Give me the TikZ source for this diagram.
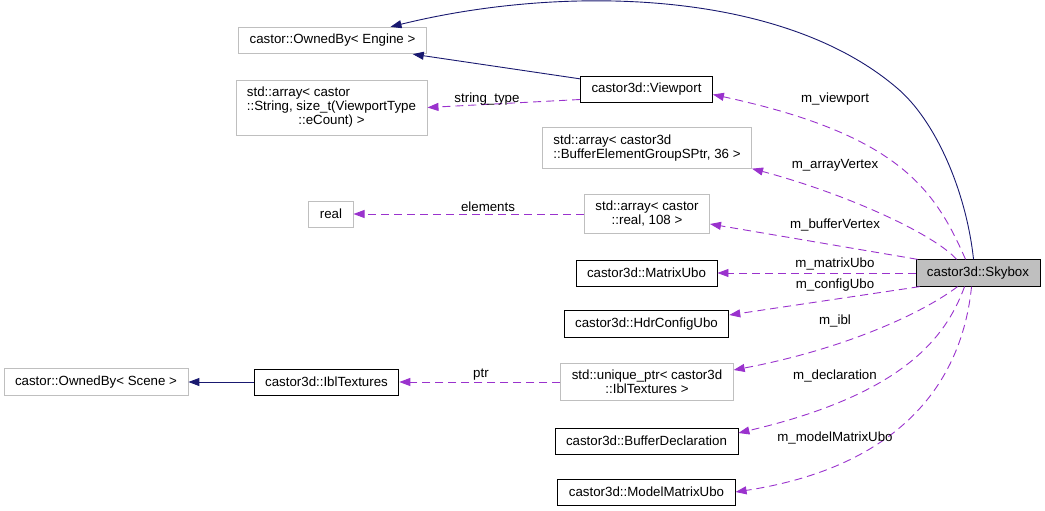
\documentclass[tikz,border=0pt]{standalone}
\usepackage{fontspec}
\setmainfont{Liberation Sans}
\usetikzlibrary{positioning, arrows.meta}
\definecolor{edgenavy}{HTML}{191970}
\definecolor{edgepurple}{HTML}{9A32CD}
\definecolor{boxgray}{HTML}{BFBFBF}

\begin{document}
\begin{tikzpicture}[x=1pt, y=-1pt, font=\fontsize{13.3}{14}\selectfont,
  cls/.style={draw=black, line width=0.9pt, inner xsep=11pt, inner ysep=7pt, minimum height=26pt},
  ext/.style={cls, draw=boxgray},
  lbl/.style={inner sep=1pt},
  inherit/.style={edgenavy, line width=0.9pt, -{Triangle[length=11pt, width=8pt]}},
  member/.style={edgepurple, line width=0.9pt, dash pattern=on 8pt off 5pt, -{Triangle[length=11pt, width=8pt]}}]
  \useasboundingbox (0,0) rectangle (1045,511);

  % classes
  \node[cls, fill=boxgray] (skybox) at (978,273) {castor3d::Skybox};
  \node[ext] (owned_engine) at (332.5,40.5) {castor::OwnedBy< Engine >};
  \node[ext, inner ysep=6.5pt] (strarray) at (331.5,107.5)
    {\begin{tabular}{@{}l@{}}std::array< castor\\::String, size\_t(ViewportType\\\multicolumn{1}{@{}c@{}}{::eCount) >}\end{tabular}};
  \node[cls] (viewport) at (646.5,89.5) {castor3d::Viewport};
  \node[ext, align=left] (bufarray) at (647,148) {std::array< castor3d\\::BufferElementGroupSPtr, 36 >};
  \node[ext] (real) at (331,214) {real};
  \node[ext, align=center] (realarray) at (647,214) {std::array< castor\\::real, 108 >};
  \node[cls] (matrixubo) at (646.5,273) {castor3d::MatrixUbo};
  \node[cls] (hdrubo) at (646.5,324) {castor3d::HdrConfigUbo};
  \node[ext] (owned_scene) at (96,382) {castor::OwnedBy< Scene >};
  \node[cls] (ibltex) at (326.5,382) {castor3d::IblTextures};
  \node[ext, align=center] (iblptr) at (647,382) {std::unique\_ptr< castor3d\\::IblTextures >};
  \node[cls] (bufdecl) at (646.5,441) {castor3d::BufferDeclaration};
  \node[cls] (modelubo) at (646.5,492) {castor3d::ModelMatrixUbo};

  % inheritance
  \draw[inherit] ([xshift=58pt]skybox.north west) .. controls (966,190) and (935,120) .. (897,88)
    .. controls (780,-12) and (560,-15) .. ([xshift=58pt]owned_engine.north);
  \draw[inherit] ([yshift=-3pt]viewport.north west) -- ([xshift=-14pt]owned_engine.south east);
  \draw[inherit] (ibltex) -- (owned_scene);

  % members
  \draw[member] ([yshift=-10pt]viewport.west) -- (strarray.east);
  \draw[member] ([xshift=50pt]skybox.north west) .. controls (935,190) and (900,135) .. ([yshift=-5pt]viewport.east);
  \draw[member] ([xshift=41pt]skybox.north west) .. controls (935,235) and (850,195) .. (bufarray.south east);
  \draw[member] ([xshift=2pt]skybox.north west) -- ([yshift=-10pt]realarray.east);
  \draw[member] (realarray) -- (real);
  \draw[member] (skybox) -- (matrixubo);
  \draw[member] ([xshift=4pt]skybox.south west) -- ([yshift=9pt]hdrubo.east);
  \draw[member] ([xshift=42pt]skybox.south west) .. controls (920,315) and (840,350) .. ([yshift=12pt]iblptr.east);
  \draw[member] (iblptr) -- (ibltex);
  \draw[member] ([xshift=49pt]skybox.south west) .. controls (945,340) and (900,395) .. ([yshift=8pt]bufdecl.east);
  \draw[member] ([xshift=56pt]skybox.south west) .. controls (960,400) and (880,470) .. (modelubo.east);

  % labels
  \node[lbl] (l_string) at (487,99) {string\_type};
  \node[lbl] (l_viewport) at (835,99) {m\_viewport};
  \node[lbl] (l_arrayvtx) at (835,165) {m\_arrayVertex};
  \node[lbl] (l_elements) at (488,207) {elements};
  \node[lbl] (l_buffervtx) at (835,225) {m\_bufferVertex};
  \node[lbl] (l_matrix) at (835,264) {m\_matrixUbo};
  \node[lbl] (l_config) at (835,285) {m\_configUbo};
  \node[lbl] (l_ibl) at (835,321) {m\_ibl};
  \node[lbl] (l_ptr) at (481,375) {ptr};
  \node[lbl] (l_decl) at (835,376) {m\_declaration};
  \node[lbl] (l_model) at (835,438) {m\_modelMatrixUbo};
\end{tikzpicture}
\end{document}
